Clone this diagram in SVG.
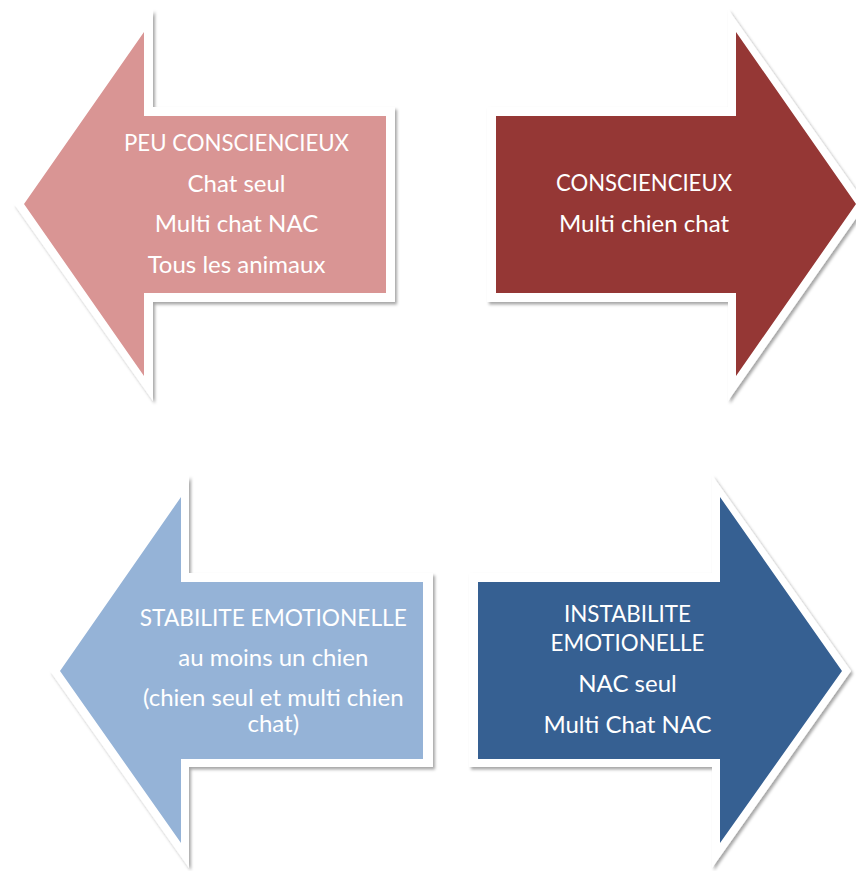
<svg xmlns="http://www.w3.org/2000/svg" width="856" height="871" viewBox="0 0 856 871">
  <defs>
    <filter id="shadow" x="-10%" y="-10%" width="120%" height="120%">
      <feDropShadow dx="2" dy="2.5" stdDeviation="1.8" flood-color="#000" flood-opacity="0.35"/>
    </filter>
  </defs>
  <style>
    .border { fill: #ffffff; filter: url(#shadow); }
    .pink { fill: #D99594; }
    .red { fill: #953735; }
    .lblue { fill: #95B3D7; }
    .dblue { fill: #366092; }
    .lbl { fill: #ffffff; font-family: Lato, "Open Sans", "Liberation Sans", sans-serif; font-size: 24px; text-anchor: middle; }
  </style>
  <rect width="856" height="871" fill="#ffffff"/>
  <g id="connectors"/>
  <g id="peu-consciencieux">
    <polygon class="border" points="14,204 153,9 153,107 395,107 395,302 153,302 153,401"/>
    <polygon class="pink" points="24,204 144,32 144,116 386,116 386,293 144,293 144,376"/>
    <text class="lbl" x="236.5" y="150.7" textLength="225" lengthAdjust="spacingAndGlyphs">PEU CONSCIENCIEUX</text>
    <text class="lbl" x="236.5" y="191.7">Chat seul</text>
    <text class="lbl" x="236.5" y="232.3">Multi chat NAC</text>
    <text class="lbl" x="236.5" y="273.3">Tous les animaux</text>
  </g>
  <g id="consciencieux">
    <polygon class="border" points="487,107 728,107 728,9 866,204 728,401 728,302 487,302"/>
    <polygon class="red" points="496,116 736,116 736,32 856,204 736,376 736,293 496,293"/>
    <text class="lbl" x="644" y="191" textLength="176" lengthAdjust="spacingAndGlyphs">CONSCIENCIEUX</text>
    <text class="lbl" x="644" y="231.7">Multi chien chat</text>
  </g>
  <g id="stabilite-emotionelle">
    <polygon class="border" points="50,671 189,475 189,573 433,573 433,767 189,767 189,868"/>
    <polygon class="lblue" points="60,671 181,497 181,582 423,582 423,759 181,759 181,843"/>
    <text class="lbl" x="273.3" y="625.5" textLength="267" lengthAdjust="spacingAndGlyphs">STABILITE EMOTIONELLE</text>
    <text class="lbl" x="273.3" y="666">au moins un chien</text>
    <text class="lbl"><tspan x="273.3" y="705.5">(chien seul et multi chien</tspan><tspan x="273.3" y="731.5">chat)</tspan></text>
  </g>
  <g id="instabilite-emotionelle">
    <polygon class="border" points="469,573 712,573 712,475 851,671 712,868 712,767 469,767"/>
    <polygon class="dblue" points="478,582 720,582 720,497 842,671 720,843 720,759 478,759"/>
    <text class="lbl"><tspan x="627.5" y="622.3" textLength="127" lengthAdjust="spacingAndGlyphs">INSTABILITE</tspan><tspan x="627.5" y="651" textLength="154" lengthAdjust="spacingAndGlyphs">EMOTIONELLE</tspan></text>
    <text class="lbl" x="627.5" y="692.3">NAC seul</text>
    <text class="lbl" x="627.5" y="733.3">Multi Chat NAC</text>
  </g>
</svg>
